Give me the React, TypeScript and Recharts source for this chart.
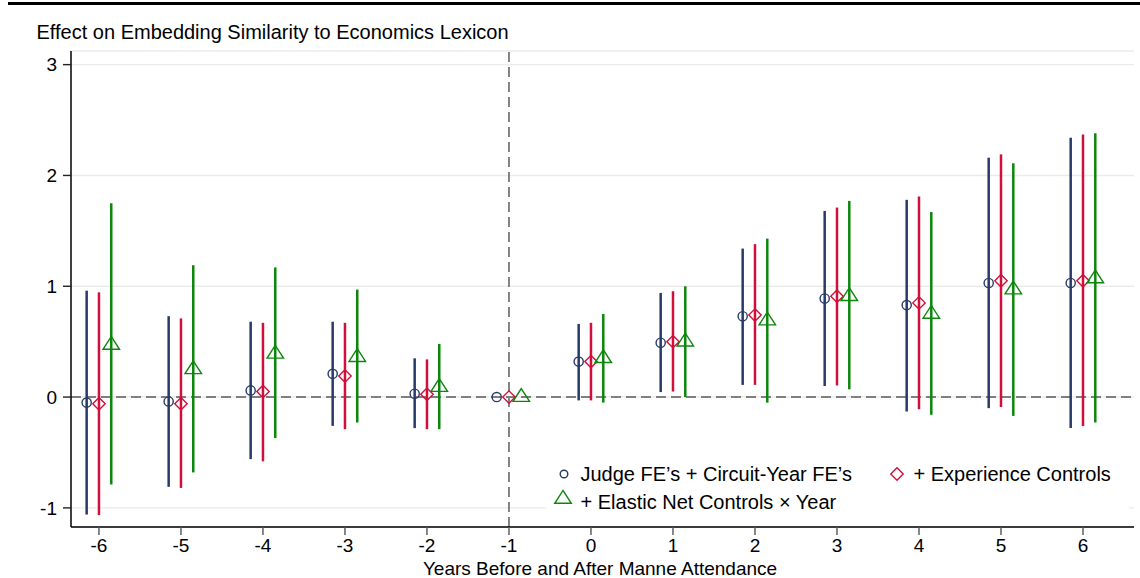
import React from "react";
import {
  ScatterChart,
  Scatter,
  XAxis,
  YAxis,
  CartesianGrid,
  ReferenceLine,
  ErrorBar,
} from "recharts";

// ---- data ----
const years = [-6, -5, -4, -3, -2, -1, 0, 1, 2, 3, 4, 5, 6];

const judgeEst = [-0.05, -0.04, 0.06, 0.21, 0.03, 0, 0.32, 0.49, 0.73, 0.89, 0.83, 1.03, 1.03];
const judgeLo = [-1.06, -0.81, -0.56, -0.26, -0.28, 0, -0.03, 0.045, 0.11, 0.1, -0.13, -0.1, -0.28];
const judgeHi = [0.96, 0.73, 0.68, 0.68, 0.35, 0, 0.66, 0.94, 1.34, 1.68, 1.78, 2.16, 2.34];

const expEst = [-0.06, -0.06, 0.05, 0.19, 0.025, 0, 0.32, 0.5, 0.74, 0.91, 0.85, 1.05, 1.05];
const expLo = [-1.065, -0.82, -0.58, -0.29, -0.29, 0, -0.03, 0.05, 0.11, 0.105, -0.11, -0.09, -0.26];
const expHi = [0.945, 0.71, 0.67, 0.67, 0.34, 0, 0.67, 0.955, 1.38, 1.71, 1.81, 2.19, 2.37];

const netEst = [0.47, 0.25, 0.39, 0.36, 0.09, 0, 0.35, 0.5, 0.69, 0.91, 0.75, 0.97, 1.07];
const netLo = [-0.79, -0.68, -0.37, -0.23, -0.29, 0, -0.05, 0.0, -0.05, 0.07, -0.16, -0.17, -0.23];
const netHi = [1.75, 1.19, 1.17, 0.97, 0.48, 0, 0.75, 1.0, 1.43, 1.77, 1.67, 2.11, 2.38];

const yTicks = [-1, 0, 1, 2, 3];

const seriesNames = [
  "Judge FE\u2019s + Circuit-Year FE\u2019s",
  "+ Experience Controls",
  "+ Elastic Net Controls \u00d7 Year",
];

// ---- styles ----
const NAVY = "#283a68";
const RED = "#d0103a";
const GREEN = "#0c870c";
const FONT = "'Liberation Sans', Arial, Helvetica, sans-serif";
const FS = 20;
const TICK_FS = 19;
const OFFSET = 0.15;

const build = (est: number[], lo: number[], hi: number[], off: number) =>
  years.map((yr, i) => ({
    x: yr + off,
    y: est[i],
    err: [est[i] - lo[i], hi[i] - est[i]],
  }));

const judgeData = build(judgeEst, judgeLo, judgeHi, -OFFSET);
const expData = build(expEst, expLo, expHi, 0);
const netData = build(netEst, netLo, netHi, OFFSET);

const CircleShape = (p: any) => (
  <circle cx={p.cx} cy={p.cy} r={4.6} fill="none" stroke={NAVY} strokeWidth={1.4} />
);
const DiamondShape = (p: any) => {
  const s = 6.2;
  return (
    <polygon
      points={`${p.cx},${p.cy - s} ${p.cx + s},${p.cy} ${p.cx},${p.cy + s} ${p.cx - s},${p.cy}`}
      fill="none"
      stroke={RED}
      strokeWidth={1.4}
    />
  );
};
const triPoints = (cx: number, cy: number) => {
  const h = 12.8;
  const w = 16.5;
  return `${cx},${cy - (2 * h) / 3} ${cx + w / 2},${cy + h / 3} ${cx - w / 2},${cy + h / 3}`;
};
const TriangleShape = (p: any) => (
  <polygon points={triPoints(p.cx, p.cy)} fill="none" stroke={GREEN} strokeWidth={1.4} />
);

export default function App() {
  return (
    <div
      style={{
        position: "absolute",
        left: 0,
        top: 0,
        width: 1140,
        height: 578,
        background: "#fff",
        fontFamily: FONT,
      }}
    >
      <div
        style={{ position: "absolute", left: 8, top: 2, width: 1132, height: 3, background: "#000" }}
      />
      <ScatterChart
        width={1140}
        height={578}
        margin={{ top: 51, right: 6, bottom: 21, left: 10 }}
        style={{ position: "absolute", left: 0, top: 0, fontFamily: FONT }}
      >
        <CartesianGrid vertical={false} stroke="#ebebeb" strokeWidth={1.4} />
        <XAxis
          type="number"
          dataKey="x"
          domain={[-6.341, 6.622]}
          ticks={years}
          interval={0}
          allowDataOverflow
          height={30}
          tickSize={8}
          tickMargin={4}
          axisLine={{ stroke: "#000", strokeWidth: 1.5 }}
          tickLine={{ stroke: "#555", strokeWidth: 1.4 }}
          tick={{ fill: "#000", fontSize: TICK_FS, fontFamily: FONT }}
        />
        <YAxis
          type="number"
          dataKey="y"
          domain={[-1.1725, 3.123]}
          ticks={yTicks}
          interval={0}
          allowDataOverflow
          width={61}
          tickSize={8}
          tickMargin={6}
          axisLine={{ stroke: "#000", strokeWidth: 1.5 }}
          tickLine={{ stroke: "#222", strokeWidth: 1.4 }}
          tick={{ fill: "#000", fontSize: TICK_FS, fontFamily: FONT }}
        />
        <ReferenceLine y={0} stroke="#7f7f7f" strokeWidth={1.9} strokeDasharray="10 5" />
        <ReferenceLine x={-1} stroke="#7f7f7f" strokeWidth={1.9} strokeDasharray="10 5" />
        <Scatter data={judgeData} shape={CircleShape} isAnimationActive={false}>
          <ErrorBar dataKey="err" direction="y" width={0} stroke={NAVY} strokeWidth={2.5} isAnimationActive={false} />
        </Scatter>
        <Scatter data={expData} shape={DiamondShape} isAnimationActive={false}>
          <ErrorBar dataKey="err" direction="y" width={0} stroke={RED} strokeWidth={2.5} isAnimationActive={false} />
        </Scatter>
        <Scatter data={netData} shape={TriangleShape} isAnimationActive={false}>
          <ErrorBar dataKey="err" direction="y" width={0} stroke={GREEN} strokeWidth={2.5} isAnimationActive={false} />
        </Scatter>
      </ScatterChart>
      <svg
        width={1140}
        height={578}
        style={{ position: "absolute", left: 0, top: 0, pointerEvents: "none" }}
      >
        <text x={36.5} y={38.5} fontSize={FS} fontFamily={FONT} fill="#000">
          Effect on Embedding Similarity to Economics Lexicon
        </text>
        <text x={600} y={574.5} fontSize={19} fontFamily={FONT} fill="#000" textAnchor="middle">
          Years Before and After Manne Attendance
        </text>
        <rect x={546} y={455} width={583} height={67} fill="#fff" />
        <circle cx={564} cy={474} r={3.8} fill="none" stroke={NAVY} strokeWidth={1.4} />
        <text x={580.5} y={480.7} fontSize={FS} fontFamily={FONT} fill="#000">
          {seriesNames[0]}
        </text>
        <polygon
          points={`897,${474 - 6.2} ${897 + 6.2},474 897,${474 + 6.2} ${897 - 6.2},474`}
          fill="none"
          stroke={RED}
          strokeWidth={1.4}
        />
        <text x={913.5} y={480.7} fontSize={FS} fontFamily={FONT} fill="#000">
          {seriesNames[1]}
        </text>
        <polygon points={triPoints(563, 499)} fill="none" stroke={GREEN} strokeWidth={1.4} />
        <text x={580.5} y={509.3} fontSize={FS} fontFamily={FONT} fill="#000">
          {seriesNames[2]}
        </text>
      </svg>
    </div>
  );
}
